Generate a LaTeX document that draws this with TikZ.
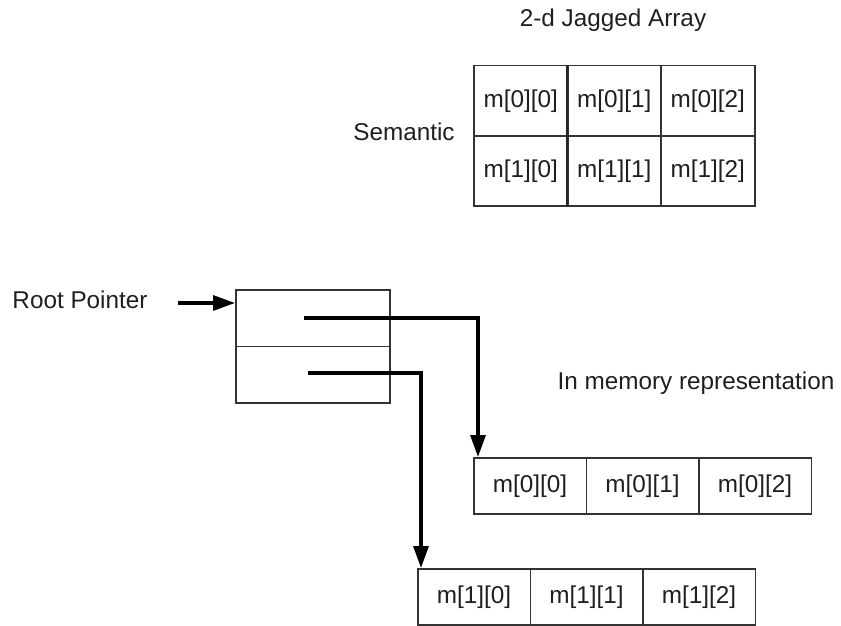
\documentclass[tikz,border=0pt]{standalone}
\usepackage{fontspec}
\setmainfont{Liberation Sans}
\usetikzlibrary{arrows.meta,calc}
\begin{document}
\begin{tikzpicture}[x=1pt,y=-1pt,
  every node/.style={font=\fontsize{24.3}{28}\selectfont, text=black!88},
  cellbox/.style={draw=black!80, line width=1.5pt, rectangle, inner sep=0pt, anchor=north west},
  gridcell/.style={cellbox, minimum height=70pt},
  memcell/.style={cellbox, minimum width=112.5pt, minimum height=56pt},
  ptrcell/.style={cellbox, minimum width=154pt, minimum height=56.5pt},
  label/.style={anchor=center},
  ptr/.style={line width=3.2pt, black, -{Triangle[length=22pt,width=15pt]}},
]
\useasboundingbox (0,0) rectangle (841,626);

% title and side labels
\node[label] (title) at (613,20) {2-d Jagged Array};
\node[label] (sem) at (404,132) {Semantic};
\node[label] (root) at (80,300) {Root Pointer};
\node[label] (mem) at (696,383) {In memory representation};

% semantic 2x3 grid
\node[gridcell, minimum width=94pt] (g00) at (473,65) {m[0][0]};
\node[gridcell, minimum width=93pt] (g01) at (567,65) {m[0][1]};
\node[gridcell, minimum width=94pt] (g02) at (660,65) {m[0][2]};
\node[gridcell, minimum width=94pt] (g10) at (473,135) {m[1][0]};
\node[gridcell, minimum width=93pt] (g11) at (567,135) {m[1][1]};
\node[gridcell, minimum width=94pt] (g12) at (660,135) {m[1][2]};
\draw[line width=2.6pt, black!85] (g01.north west) -- (g11.south west);

% root pointer array of two slots
\node[ptrcell] (r0) at (235,289) {};
\node[ptrcell] (r1) at (235,345.5) {};
\coordinate (p0) at (304,318);
\coordinate (p1) at (308,373);

% row 0 in memory
\node[memcell] (a00) at (473,457) {m[0][0]};
\node[memcell] (a01) at (585.5,457) {m[0][1]};
\node[memcell] (a02) at (698,457) {m[0][2]};

% row 1 in memory
\node[memcell] (b10) at (417,568) {m[1][0]};
\node[memcell] (b11) at (529.5,568) {m[1][1]};
\node[memcell] (b12) at (642,568) {m[1][2]};

% connectors
\draw[ptr] ($(r0.north west)+(-57,14)$) -- ($(r0.north west)+(0,14)$);
\draw[ptr] (p0) -| ($(a00.north west)+(5,0)$);
\draw[ptr] (p1) -| ($(b10.north west)+(4,0)$);
\end{tikzpicture}
\end{document}
